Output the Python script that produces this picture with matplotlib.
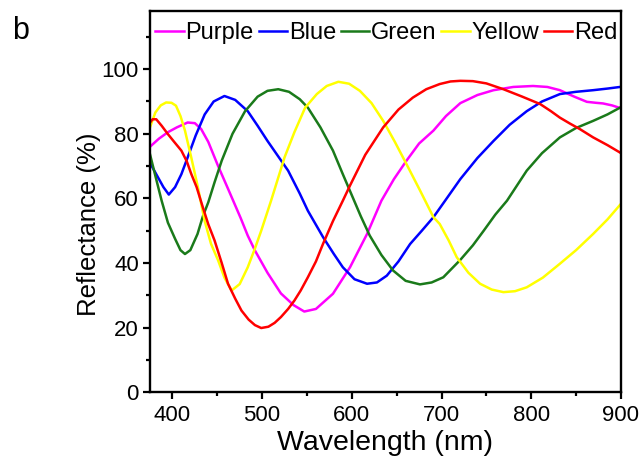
import numpy as np
import matplotlib
matplotlib.use("Agg")
from matplotlib import pyplot as plt
from matplotlib.ticker import MultipleLocator

plt.rcParams['font.family'] = ['Liberation Sans', 'DejaVu Sans']

# Reflectance spectra (wavelength nm, reflectance %)
purple_wl = [375, 385, 395, 405, 417, 425, 432, 440, 451, 462, 469, 476, 484, 492, 506, 521, 535,
             547, 560, 579, 598, 617, 633, 647, 661, 675, 691, 705, 721, 740, 758, 780,
             802, 818, 832, 848, 862, 872, 880, 890, 899]
purple_r = [76, 78.5, 80.5, 82, 83.5, 83.3, 81.5, 77.5, 70, 63, 58.5, 54, 48.5, 43.9, 37, 30.6, 27,
            25, 25.8, 30.5, 38.7, 49, 59.3, 66, 71.7, 77, 81, 85.5, 89.5, 92, 93.5, 94.5,
            94.8, 94.5, 93.5, 91.5, 89.9, 89.6, 89.4, 88.8, 88]

blue_wl = [375, 383, 390, 396, 403, 410, 417, 426, 436, 446, 458, 470, 484, 495, 506, 518,
           529, 542, 551, 568, 580, 590, 603, 617, 628, 639, 652, 665, 678, 691, 704, 721,
           740, 758, 776, 795, 812, 832, 850, 869, 885, 899]
blue_r = [71, 67, 63.5, 61.2, 63.5, 67.5, 72.7, 79.5, 86, 90, 91.7, 90.5, 87, 82.5, 77.8, 73,
          68.6, 61.5, 56.2, 48, 42.8, 38.7, 35, 33.6, 34, 36.1, 40.5, 45.9, 50, 54.2, 59.3, 66,
          72.5, 77.8, 82.8, 87, 90, 92.3, 93, 93.5, 94, 94.5]

green_wl = [375, 381, 388, 395, 403, 409, 414, 420, 428, 434, 440, 447, 455, 467, 481, 495,
            506, 518, 530, 542, 551, 565, 579, 590, 600, 610, 620, 633, 646, 660, 676, 689, 702,
            721, 735, 747, 760, 773, 795, 812, 832, 850, 869, 885, 899]
green_r = [73.7, 67, 59.3, 52.5, 47.5, 44, 42.8, 44, 49, 54.5, 58.8, 65, 71.7, 80, 87, 91.5,
           93.3, 93.8, 93, 90.7, 88.1, 82, 74.8, 67.5, 61, 54.5, 48.5, 42.5, 37.7, 34.5, 33.4, 34,
           35.6, 41, 45.5, 50, 55, 59.3, 68.6, 74, 78.9, 81.8, 84, 86, 88.1]

yellow_wl = [375, 381, 387, 393, 399, 404, 409, 414, 421, 428, 436, 443, 451, 458, 466, 475,
             484, 492, 499, 510, 525, 536, 548, 561, 572, 585, 597, 609, 622, 635, 648,
             661, 676, 691, 698, 708, 717, 730, 743, 756, 769, 782, 795, 813, 832, 850,
             869, 885, 899]
yellow_r = [82, 86.6, 88.8, 89.7, 89.6, 88.7, 85.5, 81, 72.7, 64, 53, 46, 40.8, 35.5, 31.5, 33.5,
            38.7, 44.5, 50, 59.3, 72.7, 80.5, 88.1, 92.3, 94.8, 96.1, 95.5, 93.3, 89.5, 84, 77.5,
            70.6, 62.5, 54.2, 52.1, 47, 41.8, 37, 33.6, 31.8, 31, 31.3, 32.5, 35.5, 39.8, 44,
            49, 53.5, 58]

red_wl = [375, 378, 382, 388, 395, 402, 410, 416, 421, 427, 434, 440, 447, 455, 462, 470,
          477, 485, 492, 499, 507, 514, 521, 529, 536, 543, 551, 560, 568, 579, 590, 598,
          615, 635, 652, 668, 683, 698, 710, 721, 735, 750, 769, 790, 810, 822, 832, 843,
          854, 869, 885, 899]
red_r = [83.5, 84.5, 84.5, 82.5, 79.9, 77.5, 74.8, 71.5, 67.6, 63.5, 57.2, 52, 47, 40, 33.6, 29,
         25.3, 22.5, 20.8, 19.9, 20.3, 21.5, 23.3, 25.8, 28.4, 31.5, 35.6, 40.5, 46, 53, 59.3,
         64, 73.5, 82, 87.5, 91.2, 93.8, 95.4, 96.2, 96.4, 96.3, 95.6, 93.8, 91.5, 89.2, 87,
         85, 83.2, 81.5, 78.9, 76.5, 74.2]

series = [
    ("Purple", purple_wl, purple_r, "#ff00ff"),
    ("Blue", blue_wl, blue_r, "#0000ff"),
    ("Green", green_wl, green_r, "#1a7a1a"),
    ("Yellow", yellow_wl, yellow_r, "#ffff00"),
    ("Red", red_wl, red_r, "#ff0000"),
]

fig = plt.figure(figsize=(6.39, 4.65), dpi=100)
ax = fig.add_axes([0.2347, 0.1563, 0.737, 0.82])

for name, wl, r, col in series:
    ax.plot(wl, r, color=col, linewidth=1.8, label=name)

ax.set_xlim(375, 900)
ax.set_ylim(0, 118)
ax.xaxis.set_major_locator(MultipleLocator(100))
ax.xaxis.set_minor_locator(MultipleLocator(50))
ax.yaxis.set_major_locator(MultipleLocator(20))
ax.yaxis.set_minor_locator(MultipleLocator(10))
ax.tick_params(which='both', direction='out', width=1.6, labelsize=16,
               top=False, right=False)
ax.tick_params(which='major', length=5)
ax.tick_params(which='minor', length=2.8)
ax.tick_params(axis='x', pad=4)
ax.tick_params(axis='y', pad=3)
for s in ax.spines.values():
    s.set_linewidth(1.7)

ax.set_xlabel("Wavelength (nm)", fontsize=20.5, va='top')
ax.xaxis.set_label_coords(0.5, -0.1)
ax.set_ylabel("Reflectance (%)", fontsize=18.5)
ax.yaxis.set_label_coords(-0.104, 0.44)

ax.legend(loc='center', bbox_to_anchor=(0.502, 0.942), ncol=5, frameon=False,
          fontsize=17, handlelength=1.2, handletextpad=0.08, columnspacing=0.2,
          borderaxespad=0.0, borderpad=0.0)

fig.text(12 / 639, 1 - 39 / 465, "b", fontsize=22, ha='left', va='baseline')

fig.savefig("out.png", dpi=100)
